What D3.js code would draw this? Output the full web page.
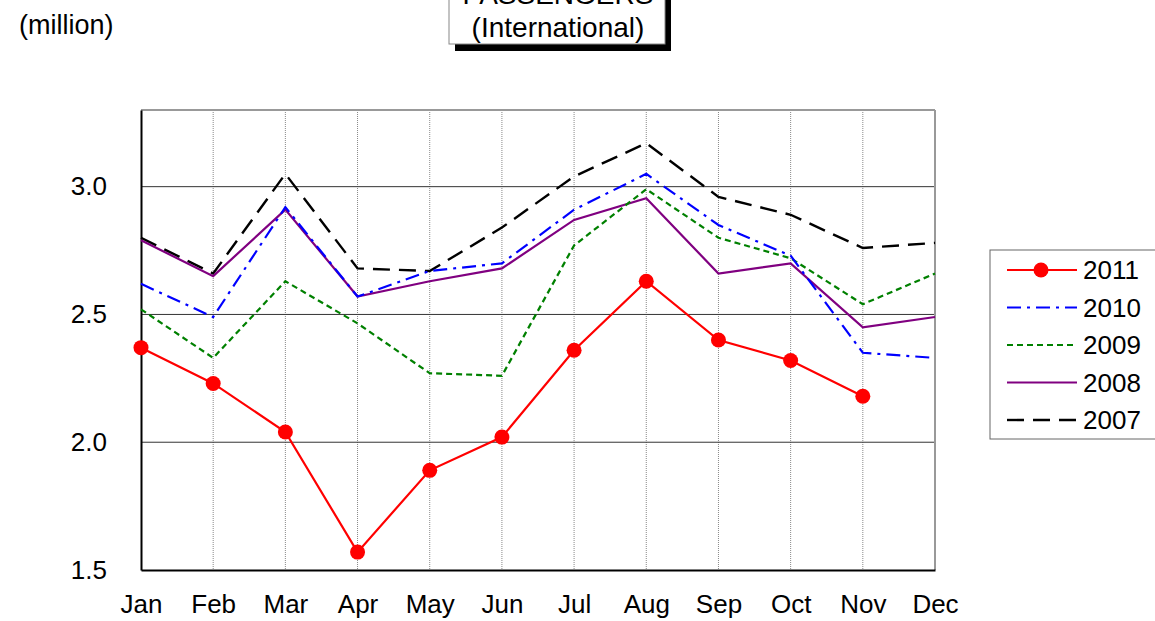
<!DOCTYPE html>
<html>
<head>
<meta charset="utf-8">
<script src="https://cdn.jsdelivr.net/npm/d3@7"></script>
<style>
  body { margin: 0; background: #fff; }
  text { font-family: "Liberation Sans", Arial, sans-serif; fill: #000; }
</style>
</head>
<body>
<div id="chart"></div>
<script>
const months = ['Jan', 'Feb', 'Mar', 'Apr', 'May', 'Jun', 'Jul', 'Aug', 'Sep', 'Oct', 'Nov', 'Dec'];
const yTicks = [1.5, 2.0, 2.5, 3.0];

const v2011 = [2.37, 2.23, 2.04, 1.57, 1.89, 2.02, 2.36, 2.63, 2.40, 2.32, 2.18, null];
const v2010 = [2.62, 2.49, 2.92, 2.57, 2.67, 2.70, 2.91, 3.05, 2.85, 2.73, 2.35, 2.33];
const v2009 = [2.52, 2.33, 2.63, 2.465, 2.27, 2.26, 2.77, 2.99, 2.80, 2.72, 2.54, 2.66];
const v2008 = [2.79, 2.65, 2.91, 2.57, 2.63, 2.68, 2.87, 2.955, 2.66, 2.70, 2.45, 2.49];
const v2007 = [2.80, 2.66, 3.05, 2.68, 2.67, 2.84, 3.04, 3.17, 2.96, 2.89, 2.76, 2.78];

const series = [
  { name: '2011', values: v2011, color: '#ff0000', dash: null, width: 2.2, dots: true },
  { name: '2010', values: v2010, color: '#0000ff', dash: '14,6,3,6', width: 2.2, dots: false },
  { name: '2009', values: v2009, color: '#008000', dash: '6,4', width: 2.2, dots: false },
  { name: '2008', values: v2008, color: '#800080', dash: null, width: 2.2, dots: false },
  { name: '2007', values: v2007, color: '#000000', dash: '17,9', width: 2.4, dots: false }
];

const W = 1155, H = 621;
const margin = { left: 141, top: 110, right: 220, bottom: 51 };

const svg = d3.select('#chart').append('svg')
  .attr('width', W)
  .attr('height', H);

const x = d3.scalePoint()
  .domain(months)
  .range([margin.left, W - margin.right]);

const y = d3.scaleLinear()
  .domain([1.5, 3.3])
  .range([H - margin.bottom, margin.top]);

// vertical dotted gridlines
svg.append('g')
  .selectAll('line')
  .data(months.slice(1, -1))
  .join('line')
  .attr('x1', d => x(d)).attr('x2', d => x(d))
  .attr('y1', y(3.3)).attr('y2', y(1.5))
  .attr('stroke', '#888')
  .attr('stroke-width', 1)
  .attr('stroke-dasharray', '1,1');

// horizontal gridlines
svg.append('g')
  .selectAll('line')
  .data(yTicks.slice(1))
  .join('line')
  .attr('x1', x('Jan')).attr('x2', x('Dec'))
  .attr('y1', d => y(d)).attr('y2', d => y(d))
  .attr('stroke', '#333')
  .attr('stroke-width', 1);

// frame: top & right grey, left & bottom black
svg.append('line')
  .attr('x1', x('Jan')).attr('x2', x('Dec'))
  .attr('y1', y(3.3)).attr('y2', y(3.3))
  .attr('stroke', '#999').attr('stroke-width', 2);
svg.append('line')
  .attr('x1', x('Dec')).attr('x2', x('Dec'))
  .attr('y1', y(3.3)).attr('y2', y(1.5))
  .attr('stroke', '#999').attr('stroke-width', 2);

// axes
const yAxis = d3.axisLeft(y).tickValues(yTicks).tickFormat(d3.format('.1f')).tickSize(0).tickPadding(34);
const gy = svg.append('g').attr('transform', `translate(${x('Jan')},0)`).call(yAxis);
gy.select('.domain').attr('stroke', '#000').attr('stroke-width', 2);
gy.selectAll('text').style('font-size', '26px');

const xAxis = d3.axisBottom(x).tickSize(0).tickPadding(25);
const gx = svg.append('g').attr('transform', `translate(0,${y(1.5)})`).call(xAxis);
gx.select('.domain').attr('stroke', '#000').attr('stroke-width', 2);
gx.selectAll('text').style('font-size', '26px');

// lines
const line = d3.line()
  .defined(d => d != null)
  .x((d, i) => x(months[i]))
  .y(d => y(d));

series.slice().reverse().forEach(s => {
  svg.append('path')
    .datum(s.values)
    .attr('fill', 'none')
    .attr('stroke', s.color)
    .attr('stroke-width', s.width)
    .attr('stroke-dasharray', s.dash)
    .attr('d', line);
  if (s.dots) {
    svg.append('g')
      .selectAll('circle')
      .data(s.values.map((v, i) => ({ v, m: months[i] })).filter(d => d.v != null))
      .join('circle')
      .attr('cx', d => x(d.m))
      .attr('cy', d => y(d.v))
      .attr('r', 7.5)
      .attr('fill', s.color);
  }
});

// legend
const lg = svg.append('g').attr('transform', 'translate(990,250)');
lg.append('rect')
  .attr('width', 170).attr('height', 189)
  .attr('fill', '#fff').attr('stroke', '#666').attr('stroke-width', 1);
series.forEach((s, i) => {
  const ly = 20 + i * 37.5;
  lg.append('line')
    .attr('x1', 17).attr('x2', 87)
    .attr('y1', ly).attr('y2', ly)
    .attr('stroke', s.color)
    .attr('stroke-width', s.width)
    .attr('stroke-dasharray', s.dash);
  if (s.dots) {
    lg.append('circle').attr('cx', 51).attr('cy', ly).attr('r', 7.5).attr('fill', s.color);
  }
  lg.append('text')
    .attr('x', 93).attr('y', ly + 9)
    .style('font-size', '26px')
    .text(s.name);
});

// unit label
svg.append('text')
  .attr('x', 19).attr('y', 34)
  .style('font-size', '27px')
  .text('(million)');

// title box with shadow
svg.append('rect')
  .attr('x', 455).attr('y', -19).attr('width', 216).attr('height', 70)
  .attr('fill', '#000');
svg.append('rect')
  .attr('x', 449).attr('y', -25).attr('width', 216).attr('height', 69)
  .attr('fill', '#fff').attr('stroke', '#888').attr('stroke-width', 1);
svg.append('text')
  .attr('x', 558).attr('y', 4)
  .attr('text-anchor', 'middle')
  .style('font-size', '28px')
  .text('PASSENGERS');
svg.append('text')
  .attr('x', 558).attr('y', 37)
  .attr('text-anchor', 'middle')
  .style('font-size', '28px')
  .text('(International)');
</script>
</body>
</html>
